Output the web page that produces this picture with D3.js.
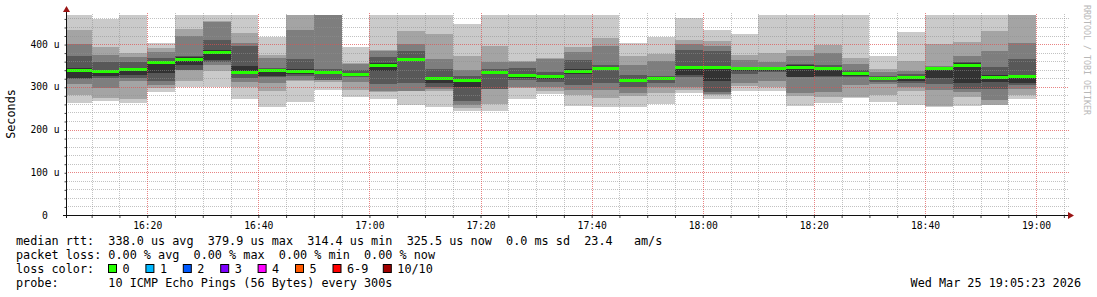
<!DOCTYPE html>
<html>
<head>
<meta charset="utf-8">
<script src="https://cdnjs.cloudflare.com/ajax/libs/d3/7.8.5/d3.min.js"></script>
<style>
  body { margin: 0; background: #fff; }
  svg text { font-family: "DejaVu Sans Mono", monospace; fill: #000; }
  .legend text { font-size: 11.8px; white-space: pre; }
</style>
</head>
<body>
<script>
  // end time of each 5 minute step
  var stepEnds = ["16:10","16:15","16:20","16:25","16:30","16:35","16:40","16:45","16:50","16:55",
                  "17:00","17:05","17:10","17:15","17:20","17:25","17:30","17:35","17:40","17:45",
                  "17:50","17:55","18:00","18:05","18:10","18:15","18:20","18:25","18:30","18:35",
                  "18:40","18:45","18:50","18:55","19:00"];

  // the 10 sorted pings of each step, in microseconds (values above the top get clipped)
  var ping1  = [263,267,263,288,299,300,271,253,265,292,275,271,257,253,244,244,271,282,255,253,252,260,285,271,291,291,256,263,273,265,258,252,255,257,271];
  var ping2  = [281,273,271,297,314,336,300,290,313,312,292,288,290,290,250,260,297,289,281,274,278,286,292,281,301,299,278,275,275,281,290,255,277,258,281];
  var ping3  = [306,298,313,304,339,350,312,308,316,316,312,290,290,296,258,294,299,299,292,292,286,300,300,284,310,314,286,288,304,306,300,292,288,269,296];
  var ping4  = [318,321,320,314,339,358,320,322,325,317,322,306,308,300,267,294,316,312,305,309,299,308,322,288,331,334,322,322,322,312,310,306,296,296,305];
  var ping5  = [321,325,327,333,352,362,331,326,330,332,325,338,361,309,299,330,320,318,331,341,312,318,327,313,337,336,323,325,326,317,314,320,309,312,309];
  var ping6  = [343,340,345,360,369,386,349,341,342,336,332,356,368,323,319,336,330,328,341,347,318,322,348,348,344,345,351,346,334,323,326,346,355,327,327];
  var ping7  = [371,358,358,367,373,409,396,343,364,341,340,370,384,341,325,341,343,335,363,351,327,325,386,384,347,347,353,351,339,326,330,347,357,346,364];
  var ping8  = [400,374,370,381,419,452,403,367,433,468,353,383,401,365,339,359,358,364,382,396,351,360,401,396,363,359,372,378,353,335,336,348,372,384,402];
  var ping9  = [434,394,380,391,435,454,427,375,480,470,356,386,430,423,372,396,360,367,394,414,372,376,409,408,374,380,386,398,367,341,360,401,405,430,480];
  var ping10 = [480,458,480,403,480,480,480,416,490,475,394,480,480,480,448,480,480,480,480,480,402,417,461,433,423,480,480,480,480,372,428,480,480,480,490];
  var median = [339,337,342,357,366,381,335,339,338,334,329,352,365,321,316,334,327,325,338,345,315,320,346,346,343,343,347,343,332,321,324,343,352,324,325];

  var yTicks = [0, 100, 200, 300, 400];
  var lossLabels = ["0","1","2","3","4","5","6-9","10/10"];
  var lossColors = ["#26ff00","#00b8ff","#0059ff","#7e00ff","#ff00ff","#ff5a00","#ff0000","#a00000"];

  var legendLines = [
    "median rtt:  338.0 us avg  379.9 us max  314.4 us min  325.5 us now  0.0 ms sd  23.4   am/s",
    "packet loss: 0.00 % avg  0.00 % max  0.00 % min  0.00 % now",
    "loss color:",
    "probe:       10 ICMP Echo Pings (56 Bytes) every 300s"
  ];
  var stamp = "Wed Mar 25 19:05:23 2026";

  var w = 1097, h = 297;
  var pings = [ping1, ping2, ping3, ping4, ping5, ping6, ping7, ping8, ping9, ping10];
  var smoke = ["#cacaca", "#a4a4a4", "#7e7e7e", "#585858", "#323232"];

  var parseT = d3.timeParse("%Y-%m-%d %H:%M:%S");
  var tStart = parseT("2026-03-25 16:05:23");
  var tEnd = parseT("2026-03-25 19:05:23");
  var ends = stepEnds.map(function(s) { return parseT("2026-03-25 " + s + ":00"); });

  var x = d3.scaleTime().domain([tStart, tEnd]).range([66, 1066]);
  var y = d3.scaleLinear().domain([0, 468]).range([215, 15]);

  var svg = d3.select("body").append("svg")
    .attr("width", w).attr("height", h);

  var defs = svg.append("defs");
  defs.append("clipPath").attr("id", "plot")
    .append("rect").attr("x", 67).attr("y", 15).attr("width", 1000).attr("height", 200);

  // checker patterns give the dotted 1px grid lines
  function dots(id, col) {
    var p = defs.append("pattern").attr("id", id)
      .attr("patternUnits", "userSpaceOnUse")
      .attr("width", 2).attr("height", 2);
    p.append("rect").attr("x", 0).attr("y", 0).attr("width", 1).attr("height", 1).attr("fill", col);
    p.append("rect").attr("x", 1).attr("y", 1).attr("width", 1).attr("height", 1).attr("fill", col);
  }
  dots("gMinor", "rgba(143,143,143,0.55)");
  dots("gMajor", "rgba(222,80,80,0.7)");

  var plot = svg.append("g").attr("clip-path", "url(#plot)");

  function x0(i) { return Math.round(x(d3.timeMinute.offset(ends[i], -5))); }
  function x1(i) { return Math.round(x(ends[i])); }

  // smoke bands: band b goes from ping(b+1) up to ping(10-b)
  smoke.forEach(function(col, b) {
    var lo = pings[b], hi = pings[9 - b];
    plot.append("g").selectAll("rect")
      .data(d3.range(ends.length))
      .join("rect")
      .attr("x", x0)
      .attr("width", function(i) { return x1(i) - x0(i); })
      .attr("y", function(i) { return Math.round(y(hi[i])); })
      .attr("height", function(i) { return Math.round(y(lo[i])) - Math.round(y(hi[i])); })
      .attr("fill", col);
  });

  // grid, every 5 min / 20 u, major every 20 min / 100 u
  var minorT = ends.concat([d3.timeMinute.offset(ends[ends.length - 1], 5)]);
  var majorT = minorT.filter(function(d) { return d.getMinutes() % 20 === 0; });
  var minorV = d3.range(20, 468, 20).filter(function(v) { return v % 100 !== 0; });
  var majorV = yTicks.filter(function(v) { return v > 0; });

  function vLines(g, data, fill) {
    g.append("g").selectAll("rect").data(data)
      .join("rect")
      .attr("x", function(d) { return Math.round(x(d)); })
      .attr("width", 1)
      .attr("y", 13).attr("height", 202)
      .attr("fill", fill);
  }
  function hLines(g, data, fill) {
    g.append("g").selectAll("rect").data(data)
      .join("rect")
      .attr("x", 67).attr("width", 1002)
      .attr("y", function(v) { return Math.round(y(v)); })
      .attr("height", 1)
      .attr("fill", fill);
  }
  var grid = svg.append("g").attr("class", "grid");
  vLines(grid, minorT.filter(function(d) { return d.getMinutes() % 20 !== 0; }), "url(#gMinor)");
  hLines(grid, minorV, "url(#gMinor)");
  vLines(grid, majorT, "url(#gMajor)");
  hLines(grid, majorV, "url(#gMajor)");

  // median line, coloured by loss (all 0 here)
  plot.append("g").selectAll("rect")
    .data(d3.range(ends.length))
    .join("rect")
    .attr("x", x0)
    .attr("width", function(i) { return x1(i) - x0(i); })
    .attr("y", function(i) { return Math.round(y(median[i])) - 1; })
    .attr("height", 3)
    .attr("fill", lossColors[0]);

  // axes
  var xAxis = svg.append("g")
    .attr("transform", "translate(0,215)")
    .call(d3.axisBottom(x).tickValues(majorT).tickFormat(d3.timeFormat("%H:%M")).tickSize(0));
  xAxis.select(".domain").remove();
  xAxis.attr("font-family", null).attr("font-size", 9.7);
  xAxis.selectAll("text").attr("y", 13.5).attr("dy", null);

  var xTicks = svg.append("g")
    .attr("transform", "translate(0,215)")
    .call(d3.axisBottom(x).tickValues(minorT).tickFormat("").tickSize(3));
  xTicks.select(".domain").remove();
  xTicks.selectAll("line").attr("stroke", "#404040");

  var yAxis = svg.append("g")
    .attr("transform", "translate(66,0)")
    .call(d3.axisLeft(y).tickValues(yTicks)
      .tickFormat(function(d) { return d === 0 ? "0" : d + " u"; }).tickSize(0));
  yAxis.select(".domain").remove();
  yAxis.attr("font-family", null).attr("font-size", 9.7);
  yAxis.selectAll("text").attr("x", -21).attr("text-anchor", "middle");

  var yMinor = svg.append("g")
    .attr("transform", "translate(66.5,0.5)")
    .call(d3.axisLeft(y).tickValues(minorV.concat(majorV)).tickFormat("").tickSize(2));
  yMinor.select(".domain").remove();
  yMinor.selectAll("line").attr("stroke", "#404040");

  svg.append("line").attr("x1", 63).attr("x2", 1068).attr("y1", 215.5).attr("y2", 215.5)
    .attr("stroke", "#101010");
  svg.append("line").attr("x1", 66.5).attr("x2", 66.5).attr("y1", 218).attr("y2", 12)
    .attr("stroke", "#101010");
  svg.append("path").attr("d", "M1068,212 L1074,215.5 L1068,219 Z").attr("fill", "#9a1414");
  svg.append("path").attr("d", "M63,12 L66.5,6 L70,12 Z").attr("fill", "#9a1414");

  // axis title and watermark
  svg.append("text")
    .attr("transform", "translate(14.8,114) rotate(-90)")
    .attr("text-anchor", "middle")
    .style("font-size", "11.8px")
    .text("Seconds");
  svg.append("text")
    .attr("transform", "translate(1084,5) rotate(90)")
    .style("font-size", "8.3px")
    .style("fill", "#b8b8b8")
    .text("RRDTOOL / TOBI OETIKER");

  // legend
  var legend = svg.append("g").attr("class", "legend");
  var baselines = [245, 259, 272.5, 287];
  legend.selectAll("text.line").data(legendLines)
    .join("text").attr("class", "line")
    .attr("x", 16)
    .attr("y", function(d, i) { return baselines[i]; })
    .attr("xml:space", "preserve")
    .text(function(d) { return d; });

  var swX = [108.5, 145.9, 183.3, 220.7, 258.1, 295.5, 333, 383.3];
  legend.selectAll("rect.sw").data(lossColors)
    .join("rect").attr("class", "sw")
    .attr("x", function(d, i) { return swX[i]; })
    .attr("y", 264.5)
    .attr("width", 8).attr("height", 8)
    .attr("fill", function(d) { return d; })
    .attr("stroke", "#000").attr("stroke-width", 1);
  legend.selectAll("text.sw").data(lossLabels)
    .join("text").attr("class", "sw")
    .attr("x", function(d, i) { return swX[i] + 14; })
    .attr("y", baselines[2])
    .text(function(d) { return d; });

  legend.append("text")
    .attr("x", 1081).attr("y", baselines[3])
    .attr("text-anchor", "end")
    .text(stamp);
</script>
</body>
</html>
